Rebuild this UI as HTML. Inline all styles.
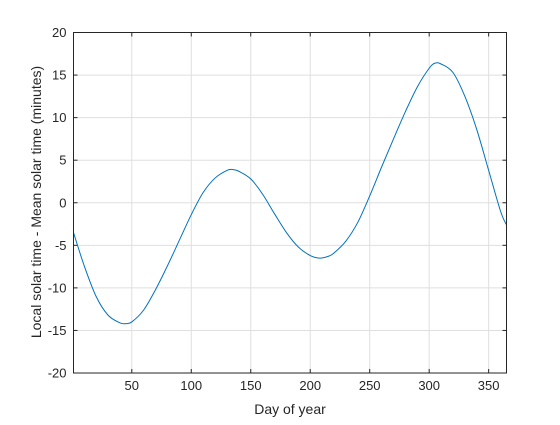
<!DOCTYPE html>
<html><head><meta charset="utf-8"><style>
body{margin:0;background:#fff;}
svg text{font-family:"Liberation Sans",sans-serif;font-size:13px;fill:#262626;}
</style></head><body>
<svg width="560" height="420" viewBox="0 0 560 420">
<rect width="560" height="420" fill="#fff"/>
<g id="grid"></g>
<g id="ticks"></g>
<path id="line" fill="none" stroke="#0072bd" stroke-width="1"/>
<rect x="73.5" y="32.5" width="433" height="340.5" fill="none" stroke="#262626" stroke-width="1"/>
<text x="290" y="414" text-anchor="middle" style="font-size:14px">Day of year</text>
<text transform="translate(41,202) rotate(-90)" text-anchor="middle" style="font-size:14px">Local solar time - Mean solar time (minutes)</text>
</svg>
<script>
const days=[1,10,20,30,40,45,50,60,70,80,90,100,110,120,130,135,140,150,160,170,180,190,200,208,215,220,230,240,250,260,270,280,290,300,305,310,320,330,340,350,360,365];
const eot=[-3.5,-7.4,-11.0,-13.2,-14.1,-14.2,-14.0,-12.6,-10.2,-7.4,-4.4,-1.4,1.2,2.9,3.8,3.9,3.7,2.8,1.0,-1.3,-3.5,-5.2,-6.2,-6.5,-6.3,-5.9,-4.5,-2.3,0.8,4.2,7.5,10.7,13.6,15.8,16.4,16.3,15.3,12.5,8.6,3.8,-1.0,-2.6];
const xTicks=[50,100,150,200,250,300,350];
const yTicks=[-20,-15,-10,-5,0,5,10,15,20];
const X0=73.5,X1=506.5,Y0=373,Y1=32.5;
const sx=d=>X0+(d-1)/(365-1)*(X1-X0);
const sy=v=>Y0-(v+20)/40*(Y0-Y1);
const NS='http://www.w3.org/2000/svg';
const grid=document.getElementById('grid'),ticks=document.getElementById('ticks');
function mk(tag,attrs,parent){const e=document.createElementNS(NS,tag);for(const k in attrs)e.setAttribute(k,attrs[k]);parent.appendChild(e);return e;}
xTicks.forEach(t=>{const x=sx(t);
const g=mk('line',{x1:x,x2:x,y1:Y1,y2:Y0,stroke:'#dfdfdf'},grid);


mk('line',{x1:x,x2:x,y1:Y0,y2:Y0-4,stroke:'#262626'},ticks);
mk('line',{x1:x,x2:x,y1:Y1,y2:Y1+4,stroke:'#262626'},ticks);
const tx=mk('text',{x:x,y:Y0+17,'text-anchor':'middle'},ticks);tx.textContent=t;

});
yTicks.forEach(t=>{const y=sy(t);
const g=mk('line',{x1:X0,x2:X1,y1:y,y2:y,stroke:'#dfdfdf'},grid);


mk('line',{x1:X0,x2:X0+4,y1:y,y2:y,stroke:'#262626'},ticks);
mk('line',{x1:X1,x2:X1-4,y1:y,y2:y,stroke:'#262626'},ticks);
const tx=mk('text',{x:X0-7,y:y+4.5,'text-anchor':'end'},ticks);tx.textContent=t;

});
// Catmull-Rom smooth path
const pts=days.map((d,i)=>[sx(d),sy(eot[i])]);
let p='M'+pts[0][0]+','+pts[0][1];
for(let i=0;i<pts.length-1;i++){const a=pts[i-1]||pts[i],b=pts[i],c=pts[i+1],d=pts[i+2]||c;
p+=' C'+(b[0]+(c[0]-a[0])/6)+','+(b[1]+(c[1]-a[1])/6)+' '+(c[0]-(d[0]-b[0])/6)+','+(c[1]-(d[1]-b[1])/6)+' '+c[0]+','+c[1];}
document.getElementById('line').setAttribute('d',p);
</script>
</body></html>
